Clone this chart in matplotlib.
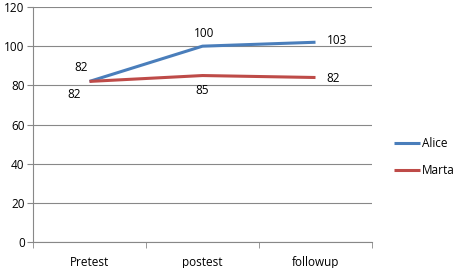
import numpy as np
import matplotlib
matplotlib.use("Agg")
import matplotlib.pyplot as plt

categories = ["Pretest", "postest", "followup"]
alice = [82, 100, 102]
marta = [82, 85, 84]
alice_labels = ["82", "100", "103"]
marta_labels = ["82", "85", "82"]

BLUE = "#4A7EBB"
RED = "#BE4B48"
GRID = "#888888"

plt.rcParams["font.family"] = ["Open Sans", "DejaVu Sans"]

fig = plt.figure(figsize=(4.54, 2.68), dpi=100)
ax = fig.add_axes([33 / 454, 26 / 268, 339 / 454, 235 / 268])

x = np.arange(len(categories))
ax.plot(x, alice, color=BLUE, lw=2.2, label="Alice", solid_capstyle="butt")
ax.plot(x, marta, color=RED, lw=2.2, label="Marta", solid_capstyle="butt")

# px -> pt offsets
k = 0.72
alice_off = [(-8, 14, "center"), (2, 13, "center"), (11, 2, "left")]
marta_off = [(-15, -13, "center"), (0, -15, "center"), (11, -1, "left")]
for i in range(len(categories)):
    dx, dy, ha = alice_off[i]
    ax.annotate(alice_labels[i], (x[i], alice[i]), xytext=(dx * k, dy * k),
                textcoords="offset points", ha=ha, va="center", fontsize=8.5)
    dx, dy, ha = marta_off[i]
    ax.annotate(marta_labels[i], (x[i], marta[i]), xytext=(dx * k, dy * k),
                textcoords="offset points", ha=ha, va="center", fontsize=8.5)

ax.set_xlim(-0.5, len(categories) - 0.5)
ax.set_ylim(0, 120)
ax.set_yticks(np.arange(0, 121, 20))
ax.set_xticks(x)
ax.set_xticklabels(categories)
ax.set_xticks(np.arange(-0.5, len(categories), 1), minor=True)
ax.tick_params(axis="x", which="major", length=0, labelsize=8.5, pad=10)
ax.tick_params(axis="x", which="minor", length=4, color=GRID, direction="out")
ax.tick_params(axis="y", length=4, color=GRID, labelsize=8.5, pad=2)
ax.yaxis.grid(True, color=GRID, lw=0.8)
ax.set_axisbelow(True)
for s in ["top", "right"]:
    ax.spines[s].set_visible(False)
for s in ["left", "bottom"]:
    ax.spines[s].set_color(GRID)
    ax.spines[s].set_linewidth(0.8)

fig.legend(loc="center left", bbox_to_anchor=(383 / 454, 1 - 157 / 268),
           frameon=False, fontsize=8.5, handlelength=2.2, handletextpad=0.2,
           labelspacing=1.2)

fig.savefig("out.png", dpi=100)
